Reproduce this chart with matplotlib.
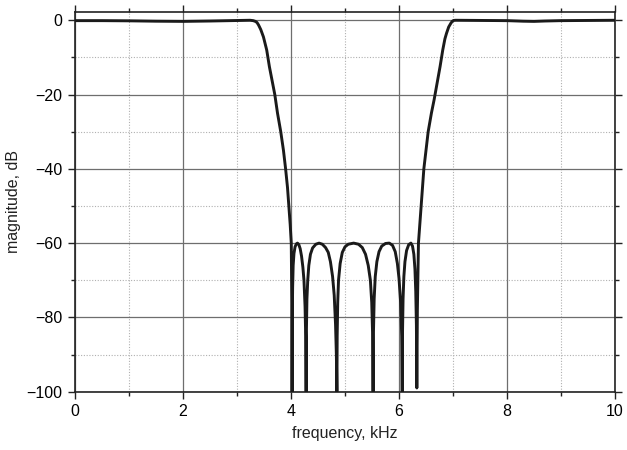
import matplotlib
matplotlib.use("Agg")
import matplotlib.pyplot as plt
from matplotlib.ticker import MultipleLocator

plt.rcParams['font.family'] = ['Liberation Sans', 'DejaVu Sans']

# Bandstop magnitude response, read point by point (kHz, dB)
passband_lo_f = [0.0, 0.5, 1.0, 1.5, 2.0, 2.5, 3.0, 3.24, 3.30, 3.34, 3.37, 3.40, 3.44, 3.49, 3.55, 3.60,
                 3.65, 3.70, 3.75, 3.81, 3.86, 3.90, 3.935, 3.96, 3.985, 4.005, 4.012, 4.017, 4.02]
passband_lo_db = [-0.1, -0.1, -0.15, -0.25, -0.3, -0.2, -0.05, 0.0, -0.1, -0.3, -0.6, -1.3, -2.5, -4.5, -8.0, -12.5,
                  -16.3, -20.0, -25.0, -30.0, -35.0, -40.0, -45.0, -50.0, -55.0, -60.0, -70.0, -80.0, -100.0]

# stopband lobes, each one null to null
stop_f = [4.024, 4.030, 4.040, 4.055, 4.075, 4.10, 4.12, 4.145, 4.17, 4.195, 4.22, 4.24, 4.26, 4.272, 4.28,
          4.285, 4.295, 4.31, 4.33, 4.36, 4.40, 4.46, 4.52, 4.58, 4.64, 4.69, 4.73, 4.77, 4.80, 4.825, 4.84, 4.85,
          4.855, 4.865, 4.88, 4.91, 4.95, 5.00, 5.06, 5.16, 5.25, 5.32, 5.38, 5.43, 5.47, 5.495, 5.51, 5.52,
          5.527, 5.54, 5.56, 5.59, 5.63, 5.68, 5.75, 5.82, 5.88, 5.93, 5.97, 6.00, 6.03, 6.05, 6.06,
          6.065, 6.075, 6.09, 6.11, 6.14, 6.18, 6.22, 6.25, 6.275, 6.295, 6.31, 6.322, 6.33]
stop_db = [-80.0, -72.0, -66.0, -62.8, -61.0, -60.2, -60.0, -60.4, -61.5, -63.5, -66.5, -70.0, -77.0, -85.0, -100.0,
           -84.0, -75.0, -70.0, -66.0, -63.0, -61.3, -60.3, -60.0, -60.3, -61.2, -62.5, -65.0, -69.0, -74.0, -82.0, -90.0, -100.0,
           -85.0, -76.0, -70.0, -65.5, -62.5, -61.0, -60.3, -60.0, -60.3, -61.2, -63.0, -66.0, -70.0, -76.0, -84.0, -100.0,
           -84.0, -75.0, -69.0, -65.0, -62.3, -60.8, -60.1, -60.0, -60.6, -62.3, -65.5, -69.5, -76.0, -85.0, -100.0,
           -84.0, -75.0, -69.0, -65.0, -62.0, -60.4, -60.0, -60.8, -63.0, -67.0, -73.0, -82.0, -99.0]

passband_hi_f = [6.34, 6.36, 6.385, 6.41, 6.435, 6.46, 6.50, 6.54, 6.60, 6.65, 6.71, 6.76, 6.81, 6.85, 6.88,
                 6.92, 6.96, 6.985, 7.01, 7.05, 7.5, 8.0, 8.3, 8.5, 8.7, 9.0, 9.5, 10.0]
passband_hi_db = [-78.0, -60.0, -55.0, -50.0, -45.0, -40.0, -35.0, -30.0, -25.0, -21.4, -16.5, -12.5, -8.0, -5.0, -3.5,
                  -1.8, -0.8, -0.3, -0.05, 0.0, -0.05, -0.1, -0.25, -0.3, -0.2, -0.1, -0.05, 0.0]

freq_khz = passband_lo_f + stop_f + passband_hi_f
mag_db = passband_lo_db + stop_db + passband_hi_db

fig = plt.figure(figsize=(6.27, 4.5), dpi=100)
ax = fig.add_axes([0.1196, 0.1296, 0.8613, 0.8431])

ax.plot(freq_khz, mag_db, color='#1a1a1a', lw=2.1, solid_joinstyle='round', zorder=3)

ax.set_xlim(0, 10)
ax.set_ylim(-100, 2.15)
ax.xaxis.set_major_locator(MultipleLocator(2))
ax.xaxis.set_minor_locator(MultipleLocator(1))
ax.yaxis.set_major_locator(MultipleLocator(20))
ax.yaxis.set_minor_locator(MultipleLocator(10))

ax.grid(which='major', color='#6e6e6e', lw=0.9, ls='-')
ax.grid(which='minor', color='#b0b0b0', lw=0.8, ls=(0, (1, 1.5)))
ax.set_axisbelow(True)

ax.tick_params(which='both', direction='out', top=True, right=True,
               labelsize=11.5, color='#222222', width=1.0)
ax.tick_params(which='major', length=5, pad=4)
ax.tick_params(which='minor', length=3)
for sp in ax.spines.values():
    sp.set_color('#222222')
    sp.set_linewidth(1.2)

ax.set_xlabel('frequency, kHz', fontsize=11.5, color='#222222', labelpad=5)
ax.set_ylabel('magnitude, dB', fontsize=11.5, color='#222222', labelpad=4)

fig.savefig('out.png', dpi=100)
